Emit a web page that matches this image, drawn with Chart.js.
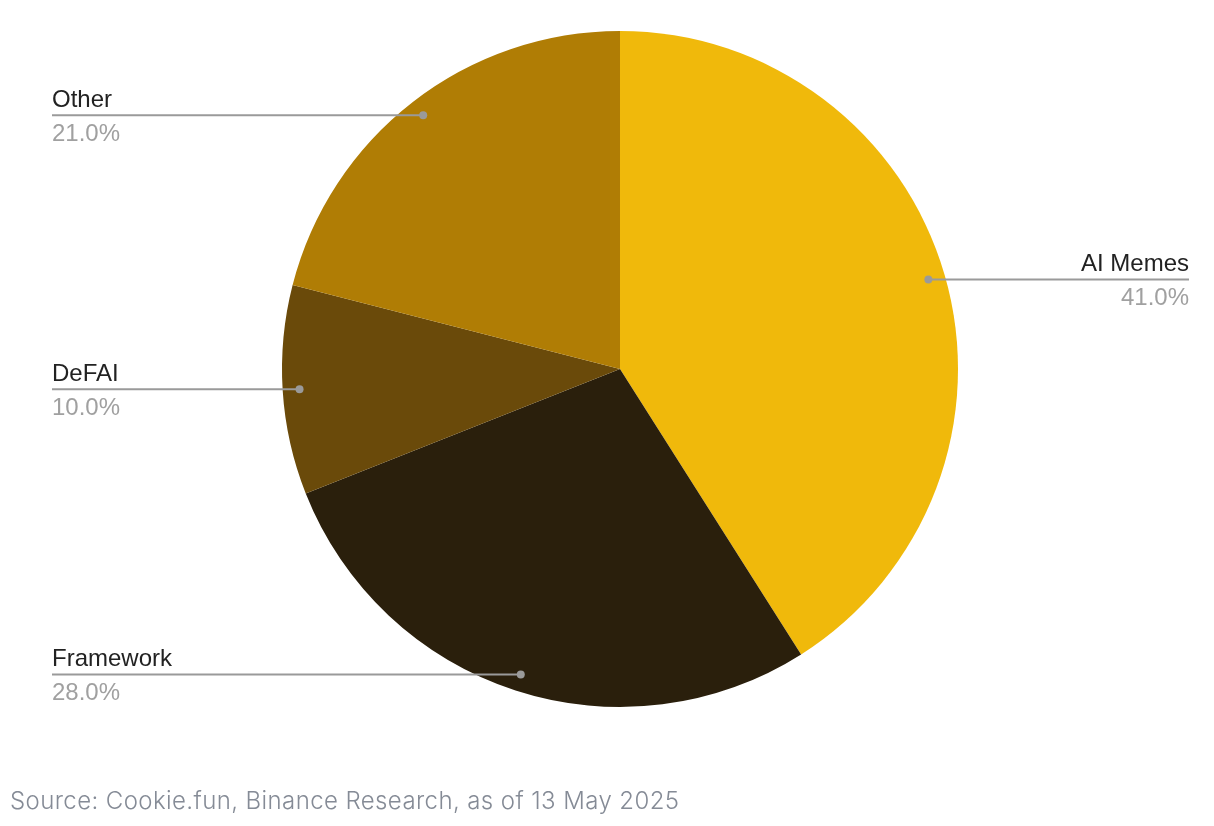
<!DOCTYPE html>
<html lang="en">
<head>
    <meta charset="UTF-8">
    <title>AI Agent Sectors</title>
    <script src="https://cdn.jsdelivr.net/npm/chart.js@4.4.1/dist/chart.umd.min.js"></script>
    <style>
        html, body { margin: 0; padding: 0; background: #ffffff; }
        #wrap { width: 1214px; height: 826px; position: relative; }
    </style>
</head>
<body>
    <div id="wrap">
        <canvas id="pieChart" width="1214" height="826"></canvas>
    </div>

    <script>
        // Data
        const categories = ['AI Memes', 'Framework', 'DeFAI', 'Other'];
        const shares = [41.0, 28.0, 10.0, 21.0];
        const sliceColors = ['#F0B90B', '#2A1F0C', '#6A4A0A', '#B07D05'];
        const sourceNote = 'Source: Cookie.fun, Binance Research, as of 13 May 2025';

        // Draws leader lines, labels and the source note
        const calloutPlugin = {
            id: 'callouts',
            afterDraw(chart) {
                const ctx = chart.ctx;
                const meta = chart.getDatasetMeta(0);
                ctx.save();
                meta.data.forEach((arc, i) => {
                    const mid = (arc.startAngle + arc.endAngle) / 2;
                    const r = arc.outerRadius * 0.95;
                    const dx = arc.x + Math.cos(mid) * r;
                    const dy = arc.y + Math.sin(mid) * r;
                    const right = dx > arc.x;
                    const x1 = right ? dx : 52;
                    const x2 = right ? 1189 : dx;

                    ctx.strokeStyle = '#9a9a9a';
                    ctx.lineWidth = 2;
                    ctx.beginPath();
                    ctx.moveTo(x1, dy);
                    ctx.lineTo(x2, dy);
                    ctx.stroke();

                    ctx.fillStyle = '#9a9a9a';
                    ctx.beginPath();
                    ctx.arc(dx, dy, 4, 0, Math.PI * 2);
                    ctx.fill();

                    ctx.textAlign = right ? 'right' : 'left';
                    const tx = right ? 1189 : 52;
                    ctx.font = '24px "Liberation Sans", Arial, sans-serif';
                    ctx.fillStyle = '#222222';
                    ctx.fillText(categories[i], tx, dy - 8);
                    ctx.fillStyle = '#a0a0a0';
                    ctx.fillText(shares[i].toFixed(1) + '%', tx, dy + 26);
                });

                ctx.textAlign = 'left';
                ctx.font = '300 24px Inter, "Open Sans", sans-serif';
                ctx.letterSpacing = '0.4px';
                ctx.fillStyle = '#858b96';
                ctx.fillText(sourceNote, 10, 809);
                ctx.restore();
            }
        };

        const ctx = document.getElementById('pieChart').getContext('2d');
        new Chart(ctx, {
            type: 'pie',
            data: {
                labels: categories,
                datasets: [{
                    data: shares,
                    backgroundColor: sliceColors,
                    borderWidth: 0
                }]
            },
            options: {
                responsive: false,
                animation: false,
                layout: {
                    padding: { top: 31, bottom: 119, left: 100, right: 74 }
                },
                plugins: {
                    legend: { display: false },
                    tooltip: { enabled: false }
                }
            },
            plugins: [calloutPlugin]
        });
    </script>
</body>
</html>
